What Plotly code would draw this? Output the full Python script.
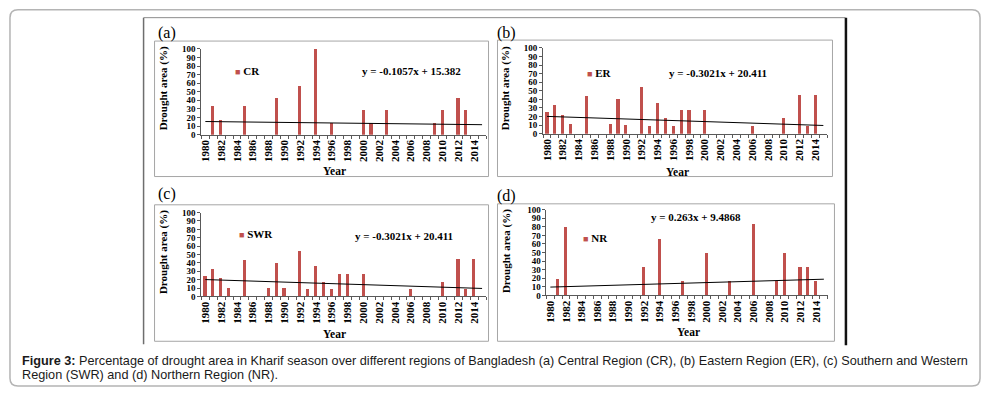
import plotly.graph_objects as go

W, H = 987, 395

# ---------------- data ----------------
years = list(range(1980, 2016))
#        1980 81    82    83    84  85    86 87 88    89    90  91 92    93   94    95    96   97    98    99 2000  01    02 03    04 05 06   07 08 09    10    11 12    13    14    15
cr  = [0, 33.3, 16.7, 0,    0, 33.3, 0, 0, 0,    42.9, 0,  0, 57.1, 0,   100,  0,    14.3, 0,    0,    0, 28.6, 14.3, 0, 28.6, 0, 0, 0,   0, 0, 14.3, 28.6, 0, 42.9, 28.6, 0,    0]
er  = [25, 33.3, 22.2, 11.1, 0, 44.4, 0, 0, 11.1, 40,  10, 0, 54.5, 9.1, 36.4, 18.2, 9.1, 27.3, 27.3, 0, 27.3, 0,    0, 0,    0, 0, 9.1, 0, 0, 0,    18.2, 0, 45.5, 9.1,  45.5, 0]
swr = [25, 33.3, 22.2, 11.1, 0, 44.4, 0, 0, 11.1, 40,  10, 0, 54.5, 9.1, 36.4, 18.2, 9.1, 27.3, 27.3, 0, 27.3, 0,    0, 0,    0, 0, 9.1, 0, 0, 0,    18.2, 0, 45.5, 9.1,  45.5, 0]
nr  = [0, 20,   80,   0,    0, 0,    0, 0, 0,    0,   0,  0, 33.3, 0,   66.7, 0,    0,   16.7, 0,    0, 50,   0,    0, 16.7, 0, 0, 83.3,0, 0, 16.7, 50,   0, 33.3, 33.3, 16.7, 0]

tick_years = list(range(1980, 2015, 2))
tick_labels = [str(y) for y in tick_years]
y_ticks = list(range(0, 101, 10))

regions = ["CR", "ER", "SWR", "NR"]
panel_letters = ["(a)", "(b)", "(c)", "(d)"]
equations = ["y = -0.1057x + 15.382", "y = -0.3021x + 20.411",
             "y = -0.3021x + 20.411", "y = 0.263x + 9.4868"]
slopes = [-0.1057, -0.3021, -0.3021, 0.263]
intercepts = [15.382, 20.411, 20.411, 9.4868]
series = [cr, er, swr, nr]

caption_bold = "Figure 3:"
caption_line1 = (" Percentage of drought area in Kharif season over different regions of Bangladesh "
                 "(a) Central Region (CR), (b) Eastern Region (ER), (c) Southern and Western")
caption_line2 = "Region (SWR) and (d) Northern Region (NR)."

# ---------------- layout geometry (pixels) ----------------
def fx(x):
    return x / W

def fy(y):
    return 1 - y / H

panels = [
    dict(plot=(199, 484.5, 45, 133), box=(152, 37, 487, 176), label=(164, 29),
         legend=(231, 68), eq=(358, 68), ytitle=(161, 86), xtitle=(333, 170)),
    dict(plot=(541.7, 826.8, 44, 132), box=(496, 36, 832, 176), label=(505, 29),
         legend=(584, 70), eq=(666, 70), ytitle=(504, 85), xtitle=(677, 171)),
    dict(plot=(199, 484.5, 213, 299), box=(152, 205, 487, 345), label=(164, 194),
         legend=(235, 235), eq=(351, 237), ytitle=(161, 254), xtitle=(333, 338)),
    dict(plot=(545.1, 827.3, 210, 298), box=(496, 204, 834, 345), label=(505, 196),
         legend=(580, 239), eq=(648, 218), ytitle=(505, 252), xtitle=(688, 335)),
]

BAR = "#C0504D"
AX = "#595959"
SERIF = "Liberation Serif"

fig = go.Figure()
shapes = []
annotations = []

for i, p in enumerate(panels):
    n = "" if i == 0 else str(i + 1)
    xa, ya = "x" + n, "y" + n
    fig.add_trace(go.Bar(x=years, y=series[i], width=0.4, marker=dict(color=BAR, line=dict(width=0)),
                         name=regions[i], xaxis=xa, yaxis=ya, showlegend=False))
    trend = [slopes[i] * (k + 1) + intercepts[i] for k in range(len(years))]
    fig.add_trace(go.Scatter(x=years, y=trend, mode="lines", line=dict(color="black", width=1),
                             xaxis=xa, yaxis=ya, showlegend=False, hoverinfo="skip"))

    x0, x1, yt, yb = p["plot"]
    fig.layout["xaxis" + n] = dict(
        domain=[fx(x0), fx(x1)], anchor=ya, range=[1979.5, 2015.5],
        tickmode="array", tickvals=tick_years, ticktext=tick_labels, tickangle=-90,
        ticks="", showline=True, linecolor=AX, linewidth=1, showgrid=False, zeroline=False,
        tickfont=dict(family=SERIF, size=11, color="black", weight="bold"),
        minor=dict(tickvals=[y - 0.5 for y in years] + [2015.5], ticks="outside",
                   ticklen=3, tickcolor=AX, tickwidth=1, showgrid=False),
        fixedrange=True,
    )
    fig.layout["yaxis" + n] = dict(
        domain=[fy(yb), fy(yt)], anchor=xa, range=[0, 100],
        tickmode="array", tickvals=y_ticks, ticks="outside", ticklen=3, tickcolor=AX,
        showline=True, linecolor=AX, linewidth=1, showgrid=False, zeroline=False,
        tickfont=dict(family=SERIF, size=9, color="black", weight="bold"),
        fixedrange=True,
    )

    bx0, by0, bx1, by1 = p["box"]
    shapes.append(dict(type="rect", xref="paper", yref="paper", x0=fx(bx0), x1=fx(bx1),
                       y0=fy(by1), y1=fy(by0), line=dict(color="#A6A6A6", width=1)))

    lx, ly = p["label"]
    annotations.append(dict(text=panel_letters[i], x=fx(lx), y=fy(ly), xref="paper", yref="paper",
                            showarrow=False, xanchor="center", yanchor="middle",
                            font=dict(family=SERIF, size=16, color="black")))
    gx, gy = p["legend"]
    annotations.append(dict(text="<span style='color:%s;font-size:9px'>■</span> %s" % (BAR, regions[i]),
                            x=fx(gx), y=fy(gy), xref="paper", yref="paper", showarrow=False,
                            xanchor="left", yanchor="middle",
                            font=dict(family=SERIF, size=11, color="black", weight="bold")))
    ex, ey = p["eq"]
    annotations.append(dict(text=equations[i], x=fx(ex), y=fy(ey), xref="paper", yref="paper",
                            showarrow=False, xanchor="left", yanchor="middle",
                            font=dict(family=SERIF, size=11, color="black", weight="bold")))
    tx, ty = p["ytitle"]
    annotations.append(dict(text="Drought area (%)", x=fx(tx), y=fy(ty), xref="paper", yref="paper",
                            showarrow=False, xanchor="center", yanchor="middle", textangle=-90,
                            font=dict(family=SERIF, size=11, color="black", weight="bold")))
    sx, sy = p["xtitle"]
    annotations.append(dict(text="Year", x=fx(sx), y=fy(sy), xref="paper", yref="paper",
                            showarrow=False, xanchor="center", yanchor="middle",
                            font=dict(family=SERIF, size=11.5, color="black", weight="bold")))

# outer rounded box
def rounded(x0, y0, x1, y1, r):
    pts = [
        "M %f %f" % (fx(x0 + r), fy(y0)),
        "L %f %f" % (fx(x1 - r), fy(y0)),
        "Q %f %f %f %f" % (fx(x1), fy(y0), fx(x1), fy(y0 + r)),
        "L %f %f" % (fx(x1), fy(y1 - r)),
        "Q %f %f %f %f" % (fx(x1), fy(y1), fx(x1 - r), fy(y1)),
        "L %f %f" % (fx(x0 + r), fy(y1)),
        "Q %f %f %f %f" % (fx(x0), fy(y1), fx(x0), fy(y1 - r)),
        "L %f %f" % (fx(x0), fy(y0 + r)),
        "Q %f %f %f %f" % (fx(x0), fy(y0), fx(x0 + r), fy(y0)),
        "Z",
    ]
    return " ".join(pts)

shapes.append(dict(type="path", xref="paper", yref="paper", path=rounded(7, 5, 980, 391, 8),
                   line=dict(color="#B4B4B4", width=1.5)))
# image frame lines
shapes.append(dict(type="line", xref="paper", yref="paper", x0=fx(141), x1=fx(845), y0=fy(13), y1=fy(13),
                   line=dict(color="#8C8C8C", width=1)))
shapes.append(dict(type="line", xref="paper", yref="paper", x0=fx(141), x1=fx(141), y0=fy(13), y1=fy(348),
                   line=dict(color="#6E6E6E", width=1.5)))
shapes.append(dict(type="line", xref="paper", yref="paper", x0=fx(845.5), x1=fx(845.5), y0=fy(13), y1=fy(349),
                   line=dict(color="#111111", width=2.5)))

CAP_FONT = dict(family="Liberation Sans", size=12.7, color="#1a1a1a")
annotations.append(dict(text="<b>%s</b>%s" % (caption_bold, caption_line1),
                        x=fx(17), y=fy(365), xref="paper", yref="paper", showarrow=False,
                        xanchor="left", yanchor="middle", align="left", font=CAP_FONT))
annotations.append(dict(text=caption_line2,
                        x=fx(17), y=fy(380), xref="paper", yref="paper", showarrow=False,
                        xanchor="left", yanchor="middle", align="left", font=CAP_FONT))

fig.update_layout(
    width=W, height=H, margin=dict(l=0, r=0, t=0, b=0),
    paper_bgcolor="white", plot_bgcolor="white",
    shapes=shapes, annotations=annotations, bargap=0,
)

fig.write_html("out.html", config={"displayModeBar": False},
               post_script="document.body.style.margin='0px';document.body.style.overflow='hidden';")
